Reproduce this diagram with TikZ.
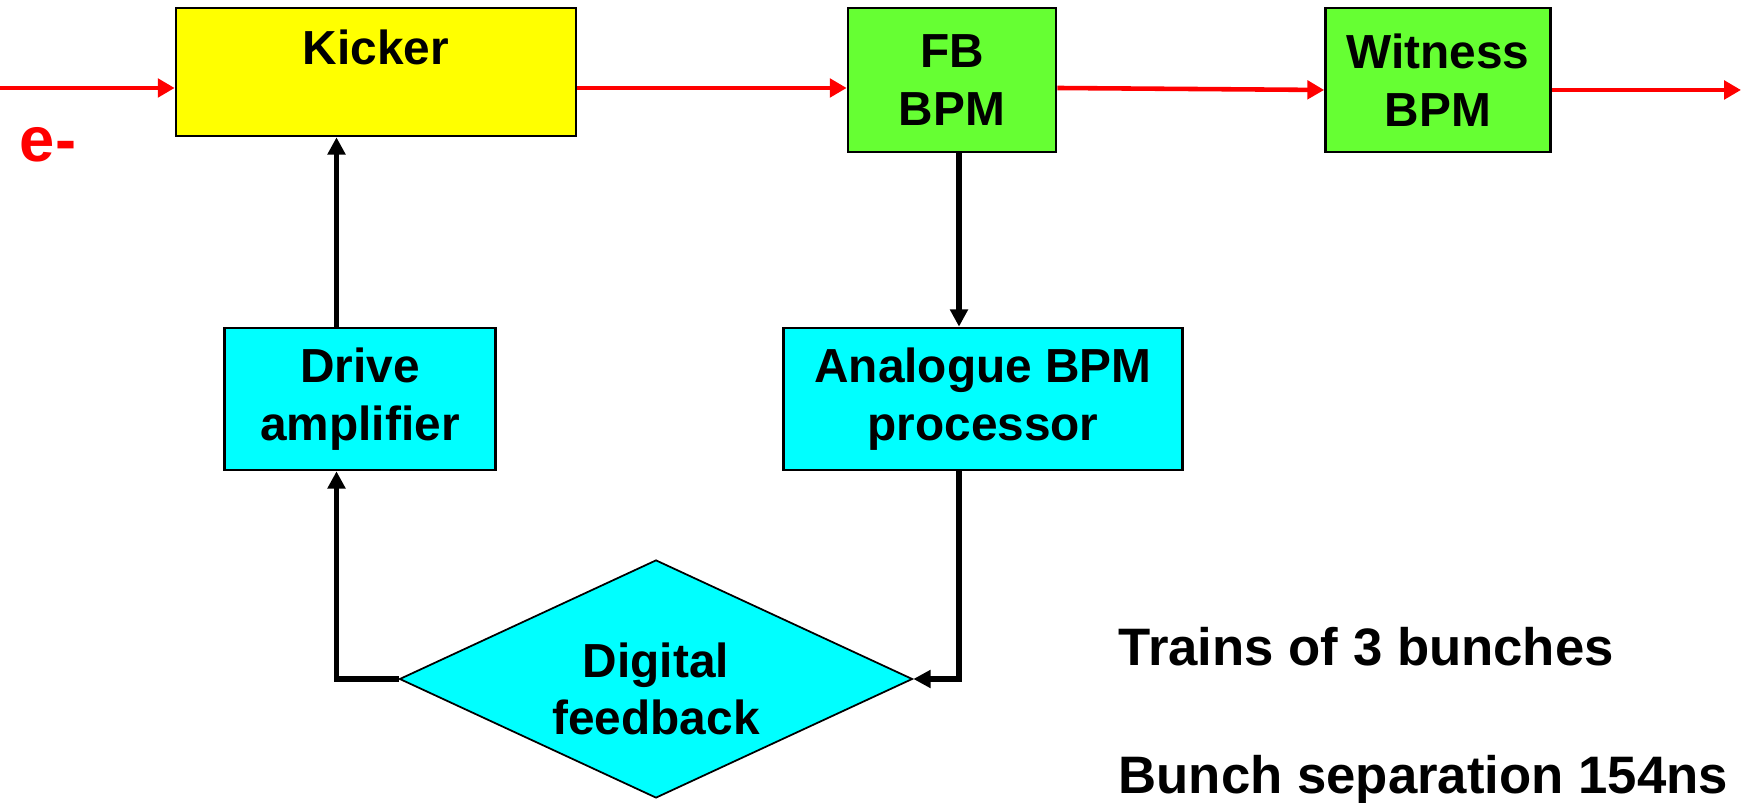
\documentclass[tikz,border=0pt]{standalone}
\usepackage{fontspec}
\setmainfont{Liberation Sans}
\usetikzlibrary{arrows.meta,shapes.geometric}
\definecolor{kickyellow}{HTML}{FFFF00}
\definecolor{bpmgreen}{HTML}{66FF33}
\definecolor{proccyan}{HTML}{00FFFF}
\definecolor{beamred}{HTML}{FF0000}

\begin{document}
\begin{tikzpicture}[x=0.1mm, y=-0.1mm,
  box/.style={draw, line width=0.75pt, inner sep=0pt, align=center,
    font=\fontsize{13.6}{16.4}\selectfont\bfseries},
  note/.style={anchor=west, inner sep=0pt, font=\fontsize{15}{18}\selectfont\bfseries},
  beam/.style={draw=beamred, line width=1.3pt, -{Triangle[length=4.8pt,width=5.2pt]}},
  sig/.style={draw, line width=1.7pt, -{Triangle[length=4.9pt,width=4.9pt]}}]
\useasboundingbox (0,0) rectangle (1748,803);

\node[box, fill=kickyellow, minimum width=40mm, minimum height=12.8mm] (kicker) at (376,72) {};
\node[box, draw=none] (kickerlabel) at (376,47) {Kicker};
\node[box, fill=bpmgreen, minimum width=20.8mm, minimum height=14.4mm] (fbbpm) at (952,80) {FB\\BPM};
\node[box, fill=bpmgreen, minimum width=22.5mm, minimum height=14.4mm] (witness) at (1438,80) {Witness\\BPM};
\node[box, fill=proccyan, minimum width=27.1mm, minimum height=14.2mm] (drive) at (360,399) {Drive\\amplifier};
\node[box, fill=proccyan, minimum width=39.9mm, minimum height=14.2mm] (analogue) at (983,399) {Analogue BPM\\processor};
\node[box, diamond, line width=0.5pt, fill=proccyan, aspect=2.16, minimum width=51.3mm, minimum height=23.8mm] (feedback) at (656,679) {};
\node[box, draw=none] (feedbacklabel) at (656,689) {Digital\\feedback};

\node[text=beamred, inner sep=0pt, font=\fontsize{18}{20}\selectfont\bfseries] (electron) at (48,145) {e-};
\node[note] (trains) at (1118,647) {Trains of 3 bunches};
\node[note] (spacing) at (1118,780) {Bunch separation 154ns};

% beam line
\coordinate (beamin) at (0,88);
\coordinate (beamout) at (1741,90);
\path[beam] (beamin) -- (beamin -| kicker.west);
\path[beam] (beamin -| kicker.east) -- (beamin -| fbbpm.west);
\path[beam] (beamin -| fbbpm.east) -- (beamout -| witness.west);
\path[beam] (beamout -| witness.east) -- (beamout);

% feedback loop
\path[sig] ([xshift=0.7mm]fbbpm.south) -- ([xshift=0.7mm]fbbpm.south |- analogue.north);
\path[sig] ([xshift=0.7mm]fbbpm.south |- analogue.south) |- (feedback.east);
\path[sig] (feedback.west) -| ([xshift=-2.35mm]drive.south);
\path[sig] ([xshift=-2.35mm]drive.north) -- ([xshift=-2.35mm]drive.north |- kicker.south);
\end{tikzpicture}
\end{document}
